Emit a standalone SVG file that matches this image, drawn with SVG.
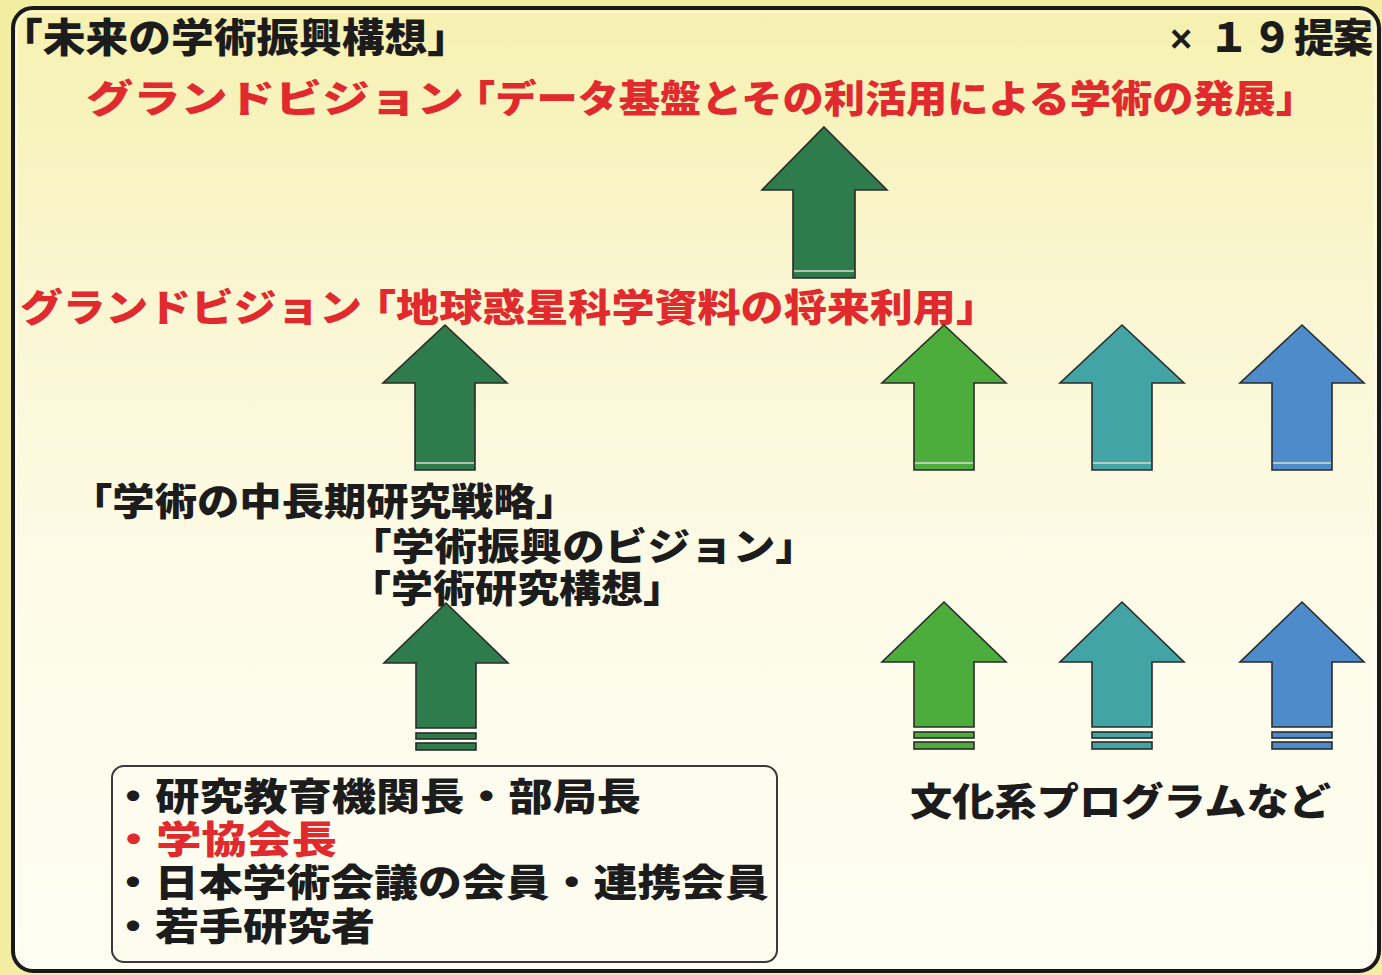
<svg xmlns="http://www.w3.org/2000/svg" xmlns:xlink="http://www.w3.org/1999/xlink" width="1382" height="975" viewBox="0 0 1382 975">
<defs>
<linearGradient id="bg" x1="0" y1="0" x2="0" y2="1">
<stop offset="0" stop-color="#f6f1b0"/>
<stop offset="0.3" stop-color="#faf6d2"/>
<stop offset="0.6" stop-color="#fdfbe8"/>
<stop offset="1" stop-color="#fefdf2"/>
</linearGradient>
<path id="upMid" d="M0,0 L62,58 L30,58 L30,145 L-30,145 L-30,58 L-62,58 Z"/>
<g id="arrowMid">
<use xlink:href="#upMid" class="ar"/>
<line x1="-29" y1="138" x2="29" y2="138" class="sep"/>
</g>
<g id="arrowLow">
<path d="M0,0 L62,60 L30,60 L30,125 L-30,125 L-30,60 L-62,60 Z" class="ar"/>
<rect x="-30" y="130" width="60" height="6" class="ar"/>
<rect x="-30" y="140" width="60" height="7" class="ar"/>
</g>
</defs>
<style>
text{font-family:"Noto Sans CJK JP","Noto Sans CJK SC",sans-serif;font-weight:900;}
.blk{fill:#1c1c1c;}
.red{fill:#e12a2e;}
.big{font-size:40px;}
.mid{font-size:38px;}
.box{font-size:38px;}
.ar{stroke:#2b2b2b;stroke-width:1.6;stroke-linejoin:miter;}
.sep{stroke:#d9dccf;stroke-width:1.6;}
</style>
<rect x="0" y="0" width="1382" height="975" fill="#f3eda2"/>
<rect x="13" y="8" width="1366" height="963" rx="20" fill="url(#bg)" stroke="#1a1a1a" stroke-width="4"/>
<rect x="17" y="12" width="1358" height="955" rx="17" fill="none" stroke="#ffffff" stroke-width="1.2" opacity="0.8"/>

<g id="title">
<text class="blk big" x="0" y="52" textLength="470" lengthAdjust="spacingAndGlyphs">「未来の学術振興構想」</text>
</g>
<g id="count">
<text class="blk big" y="52" text-anchor="middle"><tspan x="1181" style="font-family:'Liberation Sans',sans-serif;font-weight:700;font-size:38px">×</tspan><tspan x="1229">１</tspan><tspan x="1272">９</tspan><tspan x="1314">提</tspan><tspan x="1353">案</tspan></text>
</g>
<g id="vision-top">
<text class="red mid" x="86" y="112" textLength="378" lengthAdjust="spacingAndGlyphs">グランドビジョン</text>
<text class="red mid" x="454" y="112" textLength="863" lengthAdjust="spacingAndGlyphs">「データ基盤とその利活用による学術の発展」</text>
</g>
<g id="vision-mid">
<text class="red mid" x="20" y="321" textLength="342" lengthAdjust="spacingAndGlyphs">グランドビジョン</text>
<text class="red mid" x="353" y="321" textLength="646" lengthAdjust="spacingAndGlyphs">「地球惑星科学資料の将来利用」</text>
</g>
<g id="strategy">
<text class="blk mid" x="70" y="515" textLength="508" lengthAdjust="spacingAndGlyphs">「学術の中長期研究戦略」</text>
<text class="blk mid" x="349" y="560" textLength="469" lengthAdjust="spacingAndGlyphs">「学術振興のビジョン」</text>
<text class="blk mid" x="349" y="602" textLength="336" lengthAdjust="spacingAndGlyphs">「学術研究構想」</text>
</g>
<g id="proposers">
<rect x="112" y="766" width="665" height="196" rx="12" fill="#fdfcef" stroke="#3a3a3a" stroke-width="2"/>
<text class="blk box" x="111" y="810" textLength="530" lengthAdjust="spacingAndGlyphs">・研究教育機関長・部局長</text>
<text class="red box" x="111" y="853" textLength="226" lengthAdjust="spacingAndGlyphs">・学協会長</text>
<text class="blk box" x="111" y="896" textLength="658" lengthAdjust="spacingAndGlyphs">・日本学術会議の会員・連携会員</text>
<text class="blk box" x="111" y="940" textLength="264" lengthAdjust="spacingAndGlyphs">・若手研究者</text>
</g>
<g id="humanities">
<text class="blk mid" x="910" y="815" textLength="421" lengthAdjust="spacingAndGlyphs">文化系プログラムなど</text>
</g>

<g id="connectors">
<path d="M824,127 L887,190 L855,190 L855,278 L793,278 L793,190 L762,190 Z" fill="#2e7b4b" class="ar"/>
<line x1="794" y1="271" x2="854" y2="271" class="sep"/>
<use xlink:href="#arrowMid" x="445" y="325" fill="#2e7b4b"/>
<use xlink:href="#arrowMid" x="944" y="325" fill="#4cad3d"/>
<use xlink:href="#arrowMid" x="1122" y="325" fill="#42a4a4"/>
<use xlink:href="#arrowMid" x="1302" y="325" fill="#4d8bcb"/>
<use xlink:href="#arrowLow" x="446" y="603" fill="#2e7b4b"/>
<use xlink:href="#arrowLow" x="944" y="602" fill="#4cad3d"/>
<use xlink:href="#arrowLow" x="1122" y="602" fill="#42a4a4"/>
<use xlink:href="#arrowLow" x="1302" y="602" fill="#4d8bcb"/>
</g>
</svg>
